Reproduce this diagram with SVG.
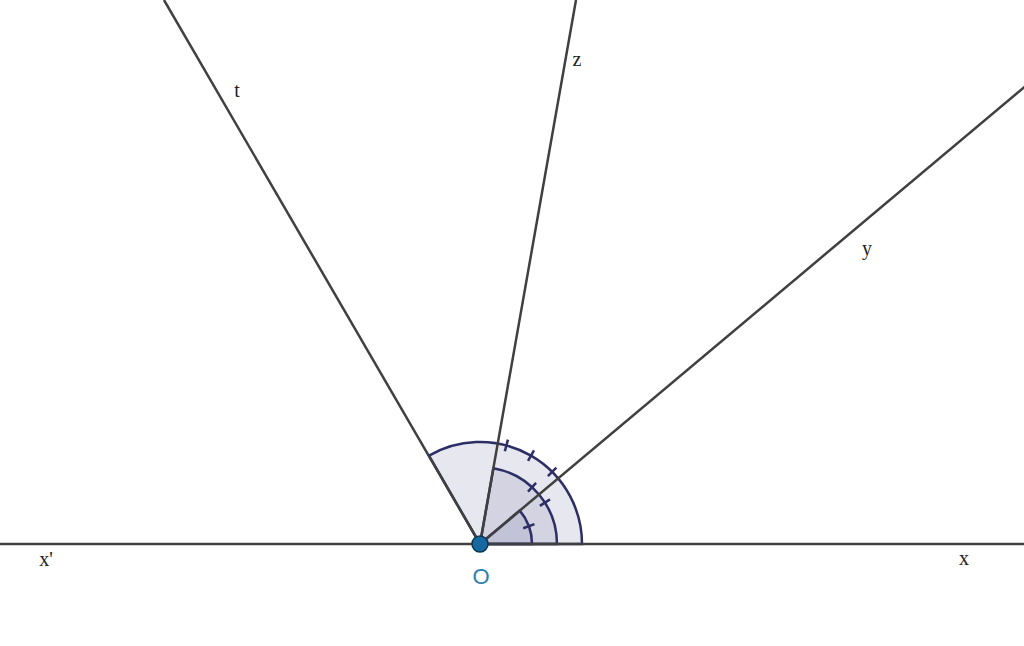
<svg xmlns="http://www.w3.org/2000/svg" width="1024" height="646" viewBox="0 0 1024 646">
<style>
.ln{stroke:#404040;stroke-width:2.5;fill:none}
.arc{stroke:#2e2e66;stroke-width:2.5}
.sec{fill:#7878a8;fill-opacity:0.18}
.tk{stroke:#2e2e66;stroke-width:2.5}
.lb{font-family:"Liberation Serif",serif;font-size:20px;fill:#222}
</style>
<rect width="1024" height="646" fill="#fff"/>
<g id="angles">
<path class="sec arc" d="M480 544 L582 544 A102 102 0 0 0 429 455.7 Z"/>
<path class="sec arc" d="M480 544 L557 544 A77 77 0 0 0 493.4 468.2 Z"/>
<path class="sec arc" d="M480 544 L532 544 A52 52 0 0 0 519.8 510.6 Z"/>
</g>
<g id="connectors">
<line class="ln" x1="0" y1="544" x2="1024" y2="544"/>
<line class="ln" x1="480" y1="544" x2="164" y2="0"/>
<line class="ln" x1="480" y1="544" x2="576" y2="0"/>
<line class="ln" x1="480" y1="544" x2="1128" y2="0"/>
</g>
<g id="ticks" class="tk">
<line x1="96" y1="0" x2="108" y2="0" transform="translate(480,544) rotate(-45)"/>
<line x1="96" y1="0" x2="108" y2="0" transform="translate(480,544) rotate(-60)"/>
<line x1="96" y1="0" x2="108" y2="0" transform="translate(480,544) rotate(-75)"/>
<line x1="71" y1="0" x2="83" y2="0" transform="translate(480,544) rotate(-32.5)"/>
<line x1="71" y1="0" x2="83" y2="0" transform="translate(480,544) rotate(-47.5)"/>
<line x1="46" y1="0" x2="58" y2="0" transform="translate(480,544) rotate(-20)"/>
</g>
<g id="O">
<circle cx="480" cy="544" r="8" fill="#1669a0" stroke="#0d3550" stroke-width="1.5"/>
<text x="481" y="584" font-family="'Liberation Sans',sans-serif" font-size="22" fill="#2a7fb0" text-anchor="middle">O</text>
</g>
<g id="labels">
<text class="lb" x="237" y="97" text-anchor="middle">t</text>
<text class="lb" x="577" y="66" text-anchor="middle">z</text>
<text class="lb" x="867" y="255" text-anchor="middle">y</text>
<text class="lb" x="964" y="565" text-anchor="middle">x</text>
<text class="lb" x="46" y="566" text-anchor="middle">x'</text>
</g>
</svg>
